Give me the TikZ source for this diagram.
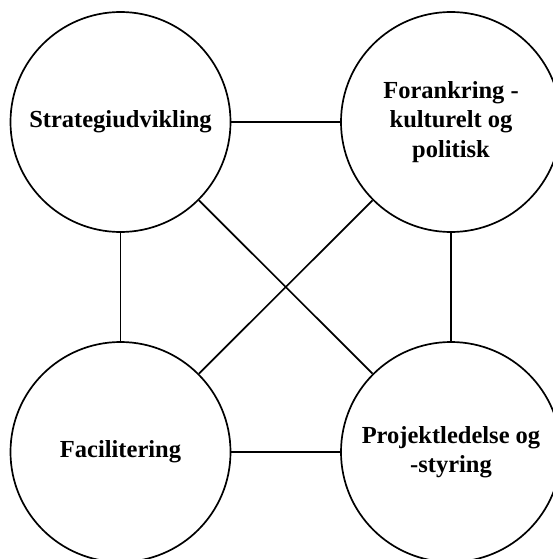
\documentclass[tikz,border=0pt]{standalone}
\usepackage{fontspec}
\setmainfont{Liberation Serif}
\usetikzlibrary{positioning}

\begin{document}
\begin{tikzpicture}[x=1pt,y=-1pt, line width=1.7pt,
fase/.style={circle, draw, minimum size=220pt, inner sep=0pt, align=center,
  font=\fontsize{24.5}{29.5}\selectfont\bfseries}]
\useasboundingbox (0,0) rectangle (553,559);
\node[fase] (strategi) at (120.5,122) {Strategiudvikling};
\node[fase] (forankring) at (451,122) {Forankring -\\kulturelt og\\politisk};
\node[fase] (facilitering) at (120.5,452) {Facilitering};
\node[fase] (projekt) at (451,452) {Projektledelse og\\-styring};
\draw (strategi) -- (forankring);
\draw (strategi) -- (facilitering);
\draw (forankring) -- (projekt);
\draw (facilitering) -- (projekt);
\draw (strategi) -- (projekt);
\draw (forankring) -- (facilitering);
\end{tikzpicture}
\end{document}
